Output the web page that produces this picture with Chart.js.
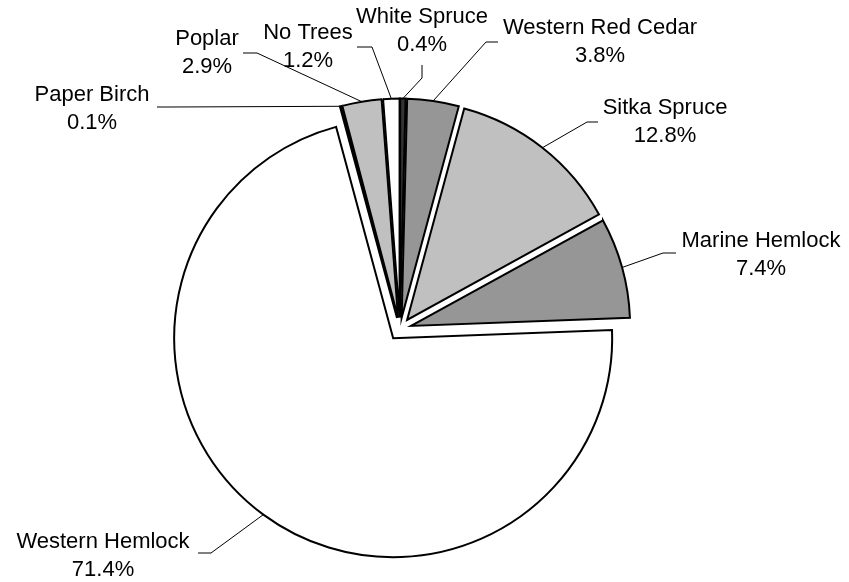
<!DOCTYPE html>
<html>
<head>
<meta charset="utf-8">
<title>Tree species share</title>
<script src="https://cdn.jsdelivr.net/npm/chart.js@4.4.1/dist/chart.umd.min.js"></script>
<style>
  html, body { margin: 0; padding: 0; background: #ffffff; }
  #wrap { width: 849px; height: 582px; }
</style>
</head>
<body>
<div id="wrap"><canvas id="pie" width="849" height="582"></canvas></div>
<script>
// Species, in clockwise order starting at 12 o'clock
const species = ['White Spruce', 'Western Red Cedar', 'Sitka Spruce', 'Marine Hemlock',
                 'Western Hemlock', 'Paper Birch', 'Poplar', 'No Trees'];
// Share of area, percent
const sharePct = [0.4, 3.8, 12.8, 7.4, 71.4, 0.1, 2.9, 1.2];

// Slice fills
const sliceFill = ['#333333', '#969696', '#c0c0c0', '#969696',
                   '#ffffff', '#ffffff', '#c0c0c0', '#ffffff'];

// Label layout: centre x, first-line centre y, leader start and knee
const labelLayout = [
  { x: 422, y: 17,  from: [422, 65],  knee: [422, 78] },
  { x: 600, y: 28,  from: [498, 42],  knee: [486, 42] },
  { x: 665, y: 108, from: [598, 122], knee: [587, 122] },
  { x: 761, y: 241, from: [676, 253], knee: [663, 253] },
  { x: 103, y: 542, from: [198, 553], knee: [211, 553] },
  { x: 92,  y: 95,  from: [157, 107], knee: [170, 107] },
  { x: 207, y: 39,  from: [243, 53],  knee: [257, 53] },
  { x: 308, y: 33,  from: [357, 47],  knee: [372, 47] }
];

const EXPLODE = 11.5;     // distance each slice is pulled out along its bisector
const LINE_GAP = 28;      // spacing between the two label lines
const LABEL_FONT = '22px "Liberation Sans", Arial, sans-serif';

// Draw every slice shifted outward along its own bisector
const explodedSlices = {
  id: 'explodedSlices',
  beforeDatasetDraw(chart, args) {
    const ctx = chart.ctx;
    args.meta.data.forEach(arc => {
      const mid = (arc.startAngle + arc.endAngle) / 2;
      ctx.save();
      ctx.translate(Math.cos(mid) * EXPLODE, Math.sin(mid) * EXPLODE);
      arc.draw(ctx, chart.chartArea);
      ctx.restore();
    });
    return false;
  }
};

// Category / percent labels with leader lines to the slice rims
const sliceLabels = {
  id: 'sliceLabels',
  afterDatasetsDraw(chart) {
    const ctx = chart.ctx;
    const meta = chart.getDatasetMeta(0);
    ctx.save();
    ctx.strokeStyle = '#000000';
    ctx.lineWidth = 1;
    meta.data.forEach((arc, i) => {
      const lay = labelLayout[i];
      const mid = (arc.startAngle + arc.endAngle) / 2;
      const cx = arc.x + Math.cos(mid) * EXPLODE;
      const cy = arc.y + Math.sin(mid) * EXPLODE;
      const rimX = cx + Math.cos(mid) * arc.outerRadius;
      const rimY = cy + Math.sin(mid) * arc.outerRadius;
      ctx.beginPath();
      ctx.moveTo(lay.from[0], lay.from[1]);
      ctx.lineTo(lay.knee[0], lay.knee[1]);
      ctx.lineTo(rimX, rimY);
      ctx.stroke();
    });
    ctx.fillStyle = '#000000';
    ctx.font = LABEL_FONT;
    ctx.textAlign = 'center';
    ctx.textBaseline = 'middle';
    species.forEach((name, i) => {
      const lay = labelLayout[i];
      ctx.fillText(name, lay.x, lay.y);
      ctx.fillText(sharePct[i].toFixed(1) + '%', lay.x, lay.y + LINE_GAP);
    });
    ctx.restore();
  }
};

new Chart(document.getElementById('pie'), {
  type: 'pie',
  data: {
    labels: species,
    datasets: [{
      data: sharePct,
      backgroundColor: sliceFill,
      borderColor: '#000000',
      borderWidth: 2,
      borderJoinStyle: 'miter',
      hoverOffset: 0
    }]
  },
  options: {
    responsive: false,
    devicePixelRatio: 1,
    animation: false,
    radius: 219,
    rotation: 0,
    layout: { padding: { left: 0, right: 49, top: 76, bottom: 0 } },
    plugins: {
      legend: { display: false },
      tooltip: { enabled: false },
      title: { display: false }
    },
    events: []
  },
  plugins: [explodedSlices, sliceLabels]
});
</script>
</body>
</html>
